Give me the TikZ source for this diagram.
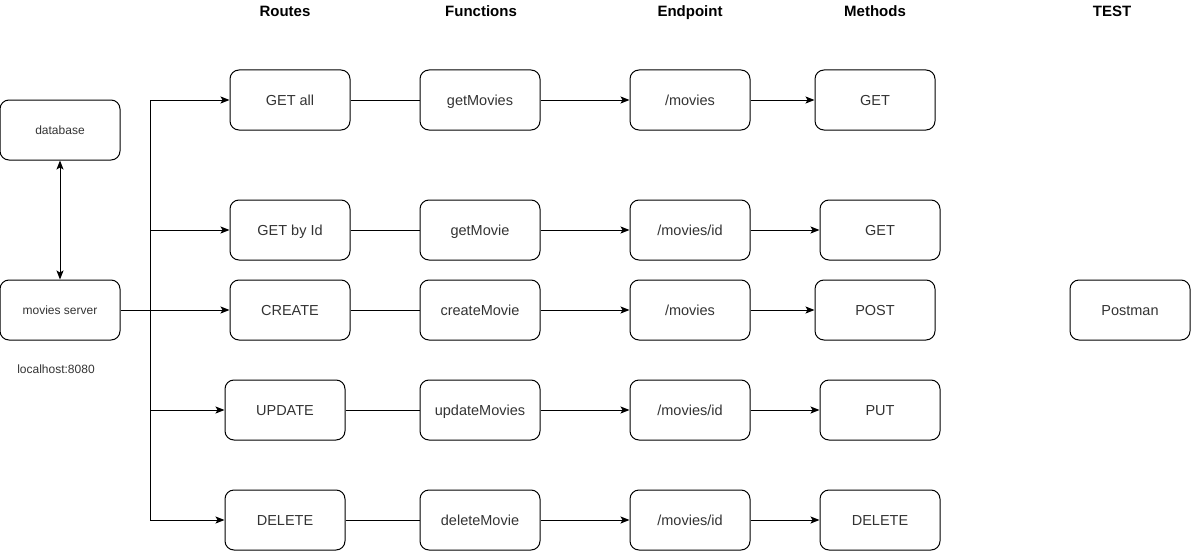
\documentclass[tikz,border=0pt]{standalone}
\usepackage{fontspec}
\setmainfont{Liberation Sans}
\usetikzlibrary{arrows.meta}
\definecolor{txt}{HTML}{333333}
\tikzset{
  box/.style={draw=black, line width=1pt, rounded corners=9pt, minimum width=120pt, minimum height=60pt, inner sep=0pt, text=txt, font=\fontsize{14.5}{16}\selectfont, text height=10.4pt, text depth=0pt},
  smallbox/.style={box, font=\fontsize{12}{14}\selectfont, text height=8.6pt},
  hdr/.style={font=\bfseries\fontsize{15}{17}\selectfont, text=black, inner sep=0pt, text height=10.8pt, text depth=0pt},
  conn/.style={line width=1pt},
  arr/.style={conn, -{Stealth[length=9pt,width=7pt,inset=2pt]}},
  darr/.style={conn, {Stealth[length=9pt,width=7pt,inset=2pt]}-{Stealth[length=9pt,width=7pt,inset=2pt]}}
}
\begin{document}
\begin{tikzpicture}[x=1pt,y=-1pt]
\useasboundingbox (0,0) rectangle (1191,551);
% headers
\node[hdr] (hRoutes) at (285,11) {Routes};
\node[hdr] (hFunc) at (481,11) {Functions};
\node[hdr] (hEnd) at (690,11) {Endpoint};
\node[hdr] (hMeth) at (875,11) {Methods};
\node[hdr] (hTest) at (1112,11) {TEST};
% left
\node[smallbox] (db) at (60,130) {database};
\node[smallbox] (srv) at (60,310) {movies server};
\node[text=txt, font=\fontsize{12}{14}\selectfont, inner sep=0pt, text height=8.6pt, text depth=0pt] (lh) at (56,369) {localhost:8080};
% routes
\node[box] (r1) at (290,100) {GET all};
\node[box] (r2) at (290,230) {GET by Id};
\node[box] (r3) at (290,310) {CREATE};
\node[box] (r4) at (285,410) {UPDATE};
\node[box] (r5) at (285,520) {DELETE};
% functions
\node[box] (f1) at (480,100) {getMovies};
\node[box] (f2) at (480,230) {getMovie};
\node[box] (f3) at (480,310) {createMovie};
\node[box] (f4) at (480,410) {updateMovies};
\node[box] (f5) at (480,520) {deleteMovie};
% endpoints
\node[box] (e1) at (690,100) {/movies};
\node[box] (e2) at (690,230) {/movies/id};
\node[box] (e3) at (690,310) {/movies};
\node[box] (e4) at (690,410) {/movies/id};
\node[box] (e5) at (690,520) {/movies/id};
% methods
\node[box] (m1) at (875,100) {GET};
\node[box] (m2) at (880,230) {GET};
\node[box] (m3) at (875,310) {POST};
\node[box] (m4) at (880,410) {PUT};
\node[box] (m5) at (880,520) {DELETE};
% test
\node[box] (pm) at (1130,310) {Postman};
% trunk
\coordinate (tTop) at (150,100);
\coordinate (tB2) at (150,230);
\coordinate (tB4) at (150,410);
\coordinate (tBot) at (150,520);
\draw[conn] (tTop) -- (tBot);
\draw[darr] (db.south) -- (srv.north);
\draw[arr] (srv.east) -- (r3.west);
\draw[arr] (tTop) -- (r1.west);
\draw[arr] (tB2) -- (r2.west);
\draw[arr] (tB4) -- (r4.west);
\draw[arr] (tBot) -- (r5.west);
% routes -> functions -> endpoints -> methods
\foreach \i in {1,...,5} {
  \draw[conn] (r\i.east) -- (f\i.west);
  \draw[arr] (f\i.east) -- (e\i.west);
  \draw[arr] (e\i.east) -- (m\i.west);
}
\end{tikzpicture}
\end{document}
